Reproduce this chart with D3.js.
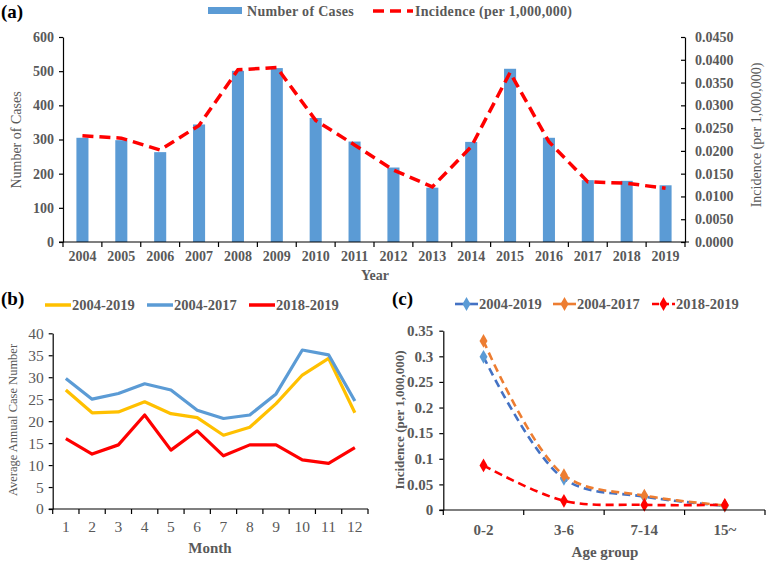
<!DOCTYPE html>
<html><head><meta charset="utf-8">
<script src="https://cdn.jsdelivr.net/npm/d3@7"></script>
<style>
body{margin:0;background:#fff;}
svg{display:block;font-family:"Liberation Serif","Times New Roman",serif;}
svg text{font-family:"Liberation Serif","Times New Roman",serif !important;}
.tk text{fill:#595959;}
.tk path,.tk line{stroke:#000;stroke-width:1.2;}
</style></head>
<body><svg id="c" width="774" height="565"></svg>
<script>
// ---------- DATA ----------
const years = ["2004","2005","2006","2007","2008","2009","2010","2011","2012","2013","2014","2015","2016","2017","2018","2019"];
const cases = [305,298,263,344,501,509,363,294,218,159,293,507,305,181,179,166];
const incidence = [0.0233,0.0228,0.0202,0.0256,0.0378,0.0383,0.0267,0.0213,0.0158,0.0121,0.0209,0.0372,0.0220,0.0132,0.0129,0.0118];
const leftTicksA = [0,100,200,300,400,500,600];
const rightTicksA = [0,0.005,0.01,0.015,0.02,0.025,0.03,0.035,0.04,0.045];

const months = ["1","2","3","4","5","6","7","8","9","10","11","12"];
const m2004_2019 = [27.1,21.9,22.1,24.4,21.7,20.8,16.8,18.6,24.0,30.5,34.3,21.9];
const m2004_2017 = [29.7,25.0,26.3,28.5,27.1,22.5,20.6,21.4,26.2,36.2,35.1,24.6];
const m2018_2019 = [16.0,12.5,14.6,21.4,13.4,17.8,12.1,14.6,14.6,11.2,10.4,14.0];
const ticksB = [0,5,10,15,20,25,30,35,40];
const seriesBNames = ["2004-2019","2004-2017","2018-2019"];

const ages = ["0-2","3-6","7-14","15~"];
const a2004_2019 = [0.299,0.061,0.026,0.008];
const a2004_2017 = [0.330,0.068,0.028,0.009];
const a2018_2019 = [0.087,0.018,0.010,0.010];
const ticksC = [0,0.05,0.1,0.15,0.2,0.25,0.3,0.35];
const seriesCNames = ["2004-2019","2004-2017","2018-2019"];

const svg = d3.select("#c");
const gray = "#595959";
const SERIF = "'Liberation Serif','Times New Roman',serif";
function styleAxis(g, size, bold){
  g.attr("font-family",null).attr("font-size",null);
  g.selectAll("text").style("font-family",SERIF).style("font-size",size+"px")
    .style("font-weight",bold?"bold":"normal").attr("fill",gray);
}

// ---------- PANEL A ----------
const xA = d3.scaleBand().domain(years).range([63,685]).padding(0);
const yA = d3.scaleLinear().domain([0,600]).range([242,37]);
const yA2 = d3.scaleLinear().domain([0,0.045]).range([242,37]);
const bwA = xA.bandwidth()*0.31;

svg.append("g").selectAll("rect").data(years).join("rect")
  .attr("x",(d)=>xA(d)+xA.bandwidth()/2-bwA/2)
  .attr("y",(d,i)=>yA(cases[i]))
  .attr("width",bwA)
  .attr("height",(d,i)=>yA(0)-yA(cases[i]))
  .attr("fill","#5B9BD5");

const lineA = d3.line().x((d,i)=>xA(years[i])+xA.bandwidth()/2).y(d=>yA2(d));
svg.append("path").datum(incidence).attr("d",lineA)
  .attr("fill","none").attr("stroke","#FF0000").attr("stroke-width",3.5)
  .attr("stroke-dasharray","11,6");

const gAL = svg.append("g").attr("class","tk").attr("transform","translate(63,0)")
  .call(d3.axisLeft(yA).tickValues(leftTicksA).tickSizeInner(4).tickSizeOuter(0).tickPadding(5));
styleAxis(gAL,14,true);
const gAR = svg.append("g").attr("class","tk").attr("transform","translate(685,0)")
  .call(d3.axisRight(yA2).tickValues(rightTicksA).tickFormat(d3.format(".4f")).tickSizeInner(-4).tickSizeOuter(0).tickPadding(10));
styleAxis(gAR,14,true);
const gAB = svg.append("g").attr("class","tk").attr("transform","translate(0,242)")
  .call(d3.axisBottom(xA).tickSize(0).tickPadding(9));
styleAxis(gAB,14,true);
gAB.selectAll("path").attr("d","M59,0H689");
svg.append("g").selectAll("line").data(years.concat(["end"])).join("line")
  .attr("x1",(d,i)=>xA.range()[0]+i*xA.step()).attr("x2",(d,i)=>xA.range()[0]+i*xA.step())
  .attr("y1",242).attr("y2",247).attr("stroke","#000").attr("stroke-width",1.2);

svg.append("text").attr("transform","translate(21,140) rotate(-90)").attr("text-anchor","middle")
  .attr("font-size",14).attr("fill",gray).text("Number of Cases");
svg.append("text").attr("transform","translate(761,135) rotate(-90)").attr("text-anchor","middle")
  .attr("font-size",14).attr("fill",gray).text("Incidence (per 1,000,000)");
svg.append("text").attr("x",375).attr("y",280).attr("text-anchor","middle")
  .attr("font-size",14).attr("font-weight","bold").attr("fill",gray).text("Year");
svg.append("text").attr("x",1).attr("y",18).attr("font-size",19).attr("font-weight","bold").attr("fill","#000").text("(a)");
// legend A
svg.append("rect").attr("x",208).attr("y",7).attr("width",34).attr("height",7).attr("fill","#5B9BD5");
svg.append("text").attr("x",247).attr("y",16).attr("font-size",14).attr("font-weight","bold").attr("fill",gray).attr("letter-spacing",0.3).text("Number of Cases");
svg.append("line").attr("x1",373).attr("x2",413).attr("y1",11).attr("y2",11)
  .attr("stroke","#FF0000").attr("stroke-width",3.5).attr("stroke-dasharray","11,6");
svg.append("text").attr("x",415).attr("y",16).attr("font-size",14).attr("font-weight","bold").attr("fill",gray).attr("letter-spacing",0.3).text("Incidence (per 1,000,000)");

// ---------- PANEL B ----------
const xB = d3.scaleBand().domain(months).range([52.7,368]).padding(0);
const yB = d3.scaleLinear().domain([0,40]).range([509,333.3]);
const colorsB = ["#FFC000","#5B9BD5","#FF0000"];
const dataB = [m2004_2019,m2004_2017,m2018_2019];
const lineB = d3.line().x((d,i)=>xB(months[i])+xB.bandwidth()/2).y(d=>yB(d));
[0,1,2].forEach(k=>{
  svg.append("path").datum(dataB[k]).attr("d",lineB).attr("fill","none")
    .attr("stroke",colorsB[k]).attr("stroke-width",3.2).attr("stroke-linejoin","round");
});
const gBL = svg.append("g").attr("class","tk").attr("transform","translate(52.7,0)")
  .call(d3.axisLeft(yB).tickValues(ticksB).tickSizeInner(4).tickSizeOuter(0).tickPadding(5));
styleAxis(gBL,15.5,false);
const gBB = svg.append("g").attr("class","tk").attr("transform","translate(0,509)")
  .call(d3.axisBottom(xB).tickSize(0).tickPadding(12));
styleAxis(gBB,15.5,false);
gBB.selectAll("path").attr("d","M48.7,0H368");
svg.append("g").selectAll("line").data(months.concat(["end"])).join("line")
  .attr("x1",(d,i)=>xB.range()[0]+i*xB.step()).attr("x2",(d,i)=>xB.range()[0]+i*xB.step())
  .attr("y1",509).attr("y2",514).attr("stroke","#000").attr("stroke-width",1.2);
svg.append("text").attr("transform","translate(17,420) rotate(-90)").attr("text-anchor","middle")
  .attr("font-size",12.5).attr("fill",gray).text("Average Annual Case Number");
svg.append("text").attr("x",210).attr("y",553).attr("text-anchor","middle")
  .attr("font-size",15).attr("font-weight","bold").attr("fill",gray).text("Month");
svg.append("text").attr("x",1).attr("y",305).attr("font-size",19).attr("font-weight","bold").attr("fill","#000").text("(b)");
const legBx = [45,147,249];
seriesBNames.forEach((n,k)=>{
  svg.append("line").attr("x1",legBx[k]).attr("x2",legBx[k]+26).attr("y1",305).attr("y2",305)
    .attr("stroke",colorsB[k]).attr("stroke-width",3.5);
  svg.append("text").attr("x",legBx[k]+27).attr("y",310).attr("font-size",14.5).attr("font-weight","bold")
    .attr("fill",gray).text(n);
});

// ---------- PANEL C ----------
const xC = d3.scaleBand().domain(ages).range([443.3,765]).padding(0);
const yC = d3.scaleLinear().domain([0,0.35]).range([510,330.7]);
const lineColC = ["#4472C4","#ED7D31","#FF0000"];
const markColC = ["#5B9BD5","#ED7D31","#FF0000"];
const dataC = [a2004_2019,a2004_2017,a2018_2019];
const lineC = d3.line().x((d,i)=>xC(ages[i])+xC.bandwidth()/2).y(d=>yC(d)).curve(d3.curveCatmullRom.alpha(0.5));
const diamond = d3.symbol().type(d3.symbolDiamond).size(55);
[0,1,2].forEach(k=>{
  svg.append("path").datum(dataC[k]).attr("d",lineC).attr("fill","none")
    .attr("stroke",lineColC[k]).attr("stroke-width",2.6).attr("stroke-dasharray","8,5");
  svg.append("g").selectAll("path").data(dataC[k]).join("path")
    .attr("d",diamond)
    .attr("transform",(d,i)=>`translate(${xC(ages[i])+xC.bandwidth()/2},${yC(d)})`)
    .attr("fill",markColC[k]);
});
const gCL = svg.append("g").attr("class","tk").attr("transform","translate(443.3,0)")
  .call(d3.axisLeft(yC).tickValues(ticksC).tickFormat(d=>String(+d.toFixed(2))).tickSizeInner(4).tickSizeOuter(0).tickPadding(6));
styleAxis(gCL,15,true);
const gCB = svg.append("g").attr("class","tk").attr("transform","translate(0,510)")
  .call(d3.axisBottom(xC).tickSize(0).tickPadding(14));
styleAxis(gCB,15,true);
gCB.selectAll("path").attr("d","M439.3,0H765");
svg.append("g").selectAll("line").data(ages.concat(["end"])).join("line")
  .attr("x1",(d,i)=>xC.range()[0]+i*xC.step()).attr("x2",(d,i)=>xC.range()[0]+i*xC.step())
  .attr("y1",510).attr("y2",515).attr("stroke","#000").attr("stroke-width",1.2);
svg.append("text").attr("transform","translate(404,420) rotate(-90)").attr("text-anchor","middle")
  .attr("font-size",13).attr("font-weight","bold").attr("fill",gray).text("Incidence (per 1,000,000)");
svg.append("text").attr("x",605).attr("y",557).attr("text-anchor","middle")
  .attr("font-size",15).attr("font-weight","bold").attr("fill",gray).text("Age group");
svg.append("text").attr("x",392).attr("y",305).attr("font-size",19).attr("font-weight","bold").attr("fill","#000").text("(c)");
const legCx = [455,553,652];
seriesCNames.forEach((n,k)=>{
  svg.append("line").attr("x1",legCx[k]).attr("x2",legCx[k]+23).attr("y1",304).attr("y2",304)
    .attr("stroke",lineColC[k]).attr("stroke-width",2.6).attr("stroke-dasharray",k===2?"7,3":null);
  svg.append("path").attr("d",diamond).attr("transform",`translate(${legCx[k]+11.5},304)`).attr("fill",markColC[k]);
  svg.append("text").attr("x",legCx[k]+24).attr("y",309).attr("font-size",14.5).attr("font-weight","bold")
    .attr("fill",gray).text(n);
});
</script></body></html>
